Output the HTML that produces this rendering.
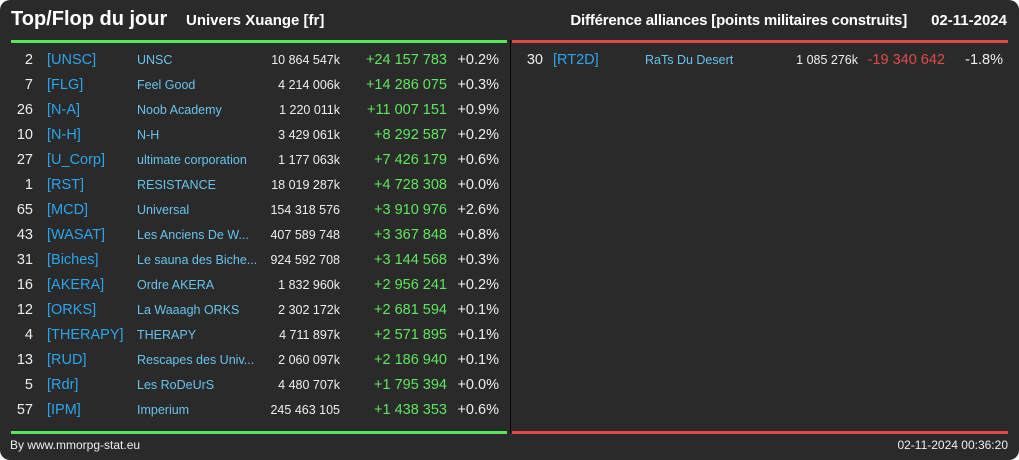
<!DOCTYPE html>
<html><head><meta charset="utf-8"><style>
html,body{margin:0;padding:0;background:#fff;}
#c{position:relative;width:1019px;height:460px;background:#2a2a2a;border-radius:10px;overflow:hidden;font-family:"Liberation Sans",sans-serif;color:#eee;}
.t{position:absolute;white-space:nowrap;line-height:1;}
.b{font-weight:bold;color:#fff;}
</style></head><body>
<div id="c">
<div class="t b" style="left:11px;top:9px;font-size:20px">Top/Flop du jour</div>
<div class="t b" style="left:186px;top:13px;font-size:15px">Univers Xuange [fr]</div>
<div class="t b" style="right:112px;top:13px;font-size:15px;letter-spacing:-0.2px">Différence alliances [points militaires construits]</div>
<div class="t b" style="right:12px;top:13px;font-size:15px">02-11-2024</div>
<div style="position:absolute;left:11px;top:40px;width:496px;height:3px;background:#55e65a"></div>
<div style="position:absolute;left:512px;top:40px;width:496px;height:3px;background:#e24a4a"></div>
<div style="position:absolute;left:510px;top:40px;width:1px;height:393px;background:#000"></div>
<div style="position:absolute;left:11px;top:431px;width:496px;height:3px;background:#55e65a"></div>
<div style="position:absolute;left:512px;top:431px;width:496px;height:3px;background:#e24a4a"></div>
<div class="t" style="left:10px;top:439px;font-size:12px;color:#eee">By www.mmorpg-stat.eu</div>
<div class="t" style="right:11px;top:439px;font-size:12px;color:#eee">02-11-2024 00:36:20</div>
</div>
<script>
const topRanks=[2,7,26,10,27,1,65,43,31,16,12,4,13,5,57];
const topTags=["[UNSC]","[FLG]","[N-A]","[N-H]","[U_Corp]","[RST]","[MCD]","[WASAT]","[Biches]","[AKERA]","[ORKS]","[THERAPY]","[RUD]","[Rdr]","[IPM]"];
const topNames=["UNSC","Feel Good","Noob Academy","N-H","ultimate corporation","RESISTANCE","Universal","Les Anciens De W...","Le sauna des Biche...","Ordre AKERA","La Waaagh ORKS","THERAPY","Rescapes des Univ...","Les RoDeUrS","Imperium"];
const topPoints=["10 864 547k","4 214 006k","1 220 011k","3 429 061k","1 177 063k","18 019 287k","154 318 576","407 589 748","924 592 708","1 832 960k","2 302 172k","4 711 897k","2 060 097k","4 480 707k","245 463 105"];
const topDiffs=["+24 157 783","+14 286 075","+11 007 151","+8 292 587","+7 426 179","+4 728 308","+3 910 976","+3 367 848","+3 144 568","+2 956 241","+2 681 594","+2 571 895","+2 186 940","+1 795 394","+1 438 353"];
const topPcts=["+0.2%","+0.3%","+0.9%","+0.2%","+0.6%","+0.0%","+2.6%","+0.8%","+0.3%","+0.2%","+0.1%","+0.1%","+0.1%","+0.0%","+0.6%"];
const flopRanks=[30];
const flopTags=["[RT2D]"];
const flopNames=["RaTs Du Desert"];
const flopPoints=["1 085 276k"];
const flopDiffs=["-19 340 642"];
const flopPcts=["-1.8%"];
const c=document.getElementById('c');
function txt(s,x,y,size,color,align,name){
  const d=document.createElement('div');
  d.className='t';
  d.textContent=s;
  d.style.fontSize=size+'px';
  d.style.color=color;
  d.style.top=(y-size*0.5)+'px';
  if(align==='r'){d.style.right=(1019-x)+'px';}else{d.style.left=x+'px';}
  
  
  c.appendChild(d);
}
function rows(ranks,tags,names,pts,diffs,pcts,xs,diffColor,prefix){
  for(let i=0;i<ranks.length;i++){
    const y=60+i*25;
    txt(String(ranks[i]),xs[0],y,14.5,'#eee','r',prefix+'-rank');
    txt(tags[i],xs[1],y,14.5,'#2aa6ee','l',prefix+'-tag');
    txt(names[i],xs[2],y,12.5,'#67c3ee','l',prefix+'-name');
    txt(pts[i],xs[3],y,12.5,'#eee','r',prefix+'-points');
    txt(diffs[i],xs[4],y,14.5,diffColor,'r',prefix+'-diff');
    txt(pcts[i],xs[5],y,14.5,'#eee','r',prefix+'-pct');
  }
}
rows(topRanks,topTags,topNames,topPoints,topDiffs,topPcts,[33,47,137,340,447,499],'#5ee65e','top');
rows(flopRanks,flopTags,flopNames,flopPoints,flopDiffs,flopPcts,[543,553,645,858,945,1003],'#e24a4a','flop');
</script>
</body></html>
